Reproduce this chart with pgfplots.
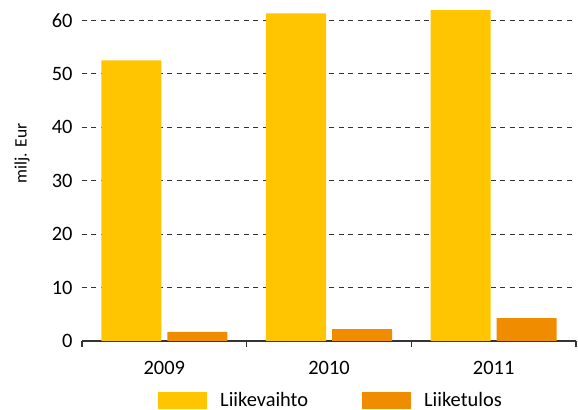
\documentclass[border=0pt]{standalone}
\usepackage{pgfplots}
\pgfplotsset{compat=1.18}
\usepackage{fontspec}
\setmainfont{Carlito}
\definecolor{cyell}{HTML}{FFC501}
\definecolor{corng}{HTML}{EF8C00}
\definecolor{gridc}{HTML}{333333}
\begin{document}
\begin{tikzpicture}
\begin{axis}[
  scale only axis,
  width=494bp, height=341bp,
  xmin=-0.5, xmax=2.5,
  ymin=0, ymax=63.8,
  axis x line*=bottom,
  axis y line*=left,
  y axis line style={draw=none},
  x axis line style={draw=gridc, line width=1.2pt},
  xtick={0,1,2},
  xticklabels={2009,2010,2011},
  minor xtick={-0.5,0.5,1.5,2.5},
  major x tick style={draw=none},
  minor tick length=6bp,
  minor x tick style={draw=gridc, line width=1.2pt},
  ytick={0,10,20,30,40,50,60},
  major y tick style={draw=none},
  ymajorgrids,
  grid style={draw=gridc, line width=0.9pt, dash pattern=on 5bp off 4.5bp},
  tick label style={font=\fontsize{20.5}{24}\selectfont},
  /pgf/number format/assume math mode=true,
  yticklabel style={anchor=east, xshift=-6bp},
  xticklabel style={anchor=center, yshift=-23bp},
  ylabel={milj. Eur},
  ylabel style={font=\fontsize{17.5}{20}\selectfont, at={(rel axis cs:0,0.55)}, anchor=center, yshift=60bp},
  ybar, bar width=60bp,
  legend columns=2,
  legend style={draw=none, at={(0.5,0)}, xshift=2bp, yshift=-59bp, anchor=center,
    font=\fontsize{20.5}{24}\selectfont,
    /tikz/every even column/.append style={column sep=52bp}},
  legend image code/.code={\fill[#1] (0bp,-8.5bp) rectangle (49bp,8.5bp); \path (60bp,0bp);},
]
\addplot[fill=cyell, draw=none, bar shift=-33bp] coordinates {(0,52.5) (1,61.3) (2,61.9)};
\addplot[fill=corng, draw=none, bar shift=33bp] coordinates {(0,1.7) (1,2.2) (2,4.3)};
\legend{Liikevaihto,Liiketulos}
\end{axis}
\pgfresetboundingbox
\path (current axis.south west) ++(-82bp,-69bp) rectangle ++(578bp,410bp);
\end{tikzpicture}
\end{document}
